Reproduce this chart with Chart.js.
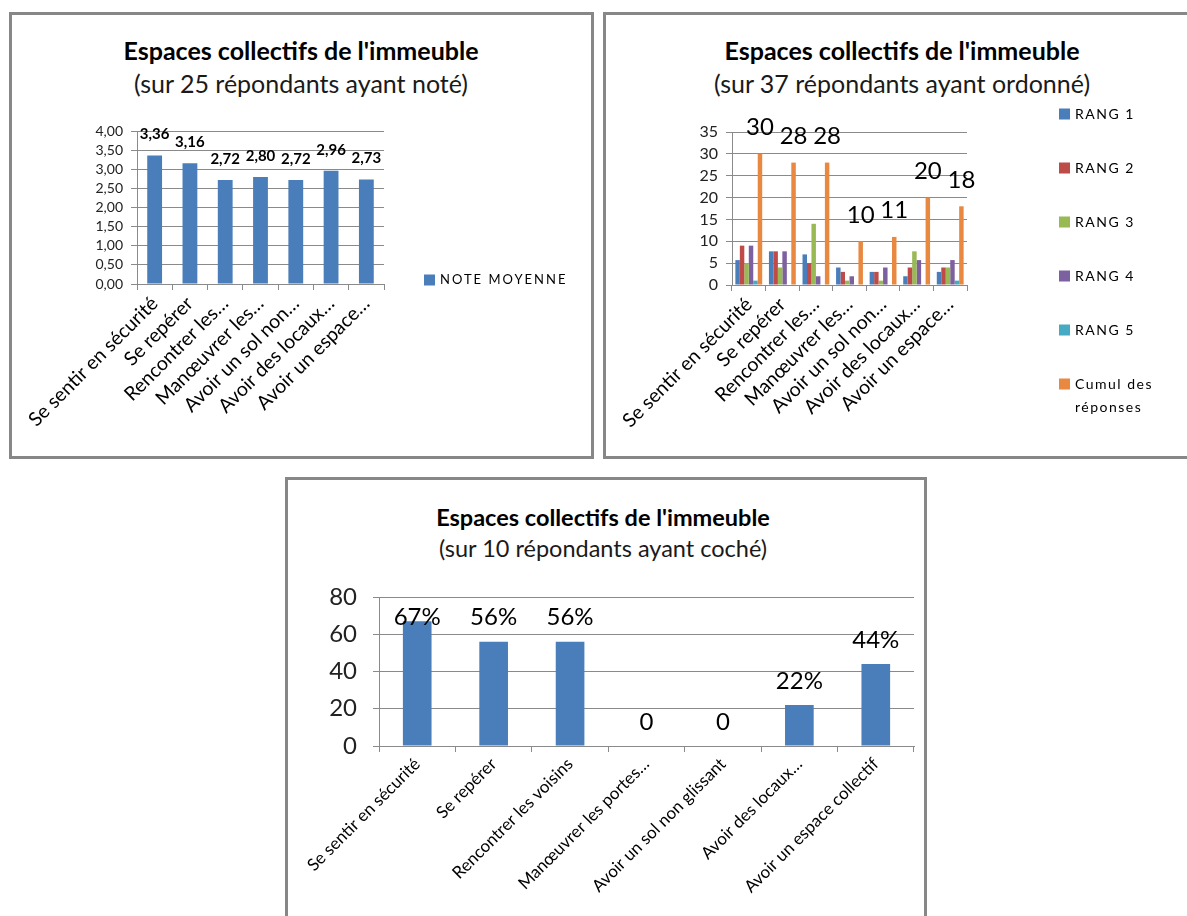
<!DOCTYPE html>
<html lang="fr">
<head>
<meta charset="utf-8">
<title>Espaces collectifs de l'immeuble</title>
<script src="https://cdn.jsdelivr.net/npm/chart.js@4.4.0/dist/chart.umd.min.js"></script>
<style>
    body {
        margin: 0;
        width: 1187px;
        height: 916px;
        overflow: hidden;
        position: relative;
        background: #fff;
        font-family: Lato, "Liberation Sans", sans-serif;
    }
    .panel {
        position: absolute;
        border: 3px solid #878787;
        box-sizing: border-box;
        background: #fff;
    }
    .panel canvas {
        position: absolute;
        left: 0;
        top: 0;
    }
    .title, .subtitle {
        position: absolute;
        width: 600px;
        text-align: center;
        color: #000;
        white-space: nowrap;
        line-height: 30px;
        font-size: 25px;
    }
    .title { font-weight: bold; }
    .subtitle { color: #1a1a1a; }
    .small { font-size: 23.5px; }
</style>
</head>
<body>

<div class="panel" style="left:9px; top:12px; width:585px; height:447px;">
    <div class="title" style="left:-11px; top:20px;">Espaces collectifs de l'immeuble</div>
    <div class="subtitle" style="left:-11px; top:53px;">(sur 25 répondants ayant noté)</div>
    <canvas id="noteChart" width="579" height="441"></canvas>
</div>

<div class="panel" style="left:603px; top:12px; width:590px; height:447px;">
    <div class="title" style="left:-4px; top:20px;">Espaces collectifs de l'immeuble</div>
    <div class="subtitle" style="left:-4px; top:53px;">(sur 37 répondants ayant ordonné)</div>
    <canvas id="rangChart" width="581" height="441"></canvas>
</div>

<div class="panel" style="left:285px; top:477px; width:642px; height:445px;">
    <div class="title small" style="left:15px; top:22px;">Espaces collectifs de l'immeuble</div>
    <div class="subtitle small" style="left:15px; top:53px;">(sur 10 répondants ayant coché)</div>
    <canvas id="cocheChart" width="636" height="436"></canvas>
</div>

<script>
// Critères (libellés raccourcis comme sur l'axe)
const shortLabels = ["Se sentir en sécurité", "Se repérer", "Rencontrer les…", "Manœuvrer les…",
    "Avoir un sol non…", "Avoir des locaux…", "Avoir un espace…"];
const longLabels = ["Se sentir en sécurité", "Se repérer", "Rencontrer les voisins", "Manœuvrer les portes…",
    "Avoir un sol non glissant", "Avoir des locaux…", "Avoir un espace collectif"];

// Graphique 1 : note moyenne
const noteMoyenne = [3.36, 3.16, 2.72, 2.80, 2.72, 2.96, 2.73];

// Graphique 2 : rangs
const rang1 = [5.7, 7.7, 7, 4, 3, 2, 3];
const rang2 = [9, 7.7, 5, 3, 3, 4, 4];
const rang3 = [5, 4, 14, 1, 1, 7.7, 4];
const rang4 = [9, 7.7, 2, 2, 4, 5.7, 5.7];
const rang5 = [1, 0, 0, 0, 0, 0, 1];
const cumulReponses = [30, 28, 28, 10, 11, 20, 18];

// Graphique 3 : pourcentage ayant coché
const pctCoche = [67, 56, 56, 0, 0, 22, 44];

const colors = {
    blue: '#4A7EBB',
    red: '#BE4B48',
    green: '#98B954',
    purple: '#7D60A0',
    teal: '#46AAC5',
    orange: '#E98840'
};
const gridColor = '#8a8a8a';
const fontFamily = 'Lato, "Liberation Sans", sans-serif';

function frenchNumber(v) {
    return v.toFixed(2).replace('.', ',');
}

// writes the value above each bar of one dataset
function makeBarLabels(datasetIndex, font, offset, format, minTop) {
    return {
        id: 'barLabels' + datasetIndex,
        afterDatasetsDraw: function (chart) {
            const ctx = chart.ctx;
            const meta = chart.getDatasetMeta(datasetIndex);
            const values = chart.data.datasets[datasetIndex].data;
            ctx.save();
            ctx.font = font;
            ctx.fillStyle = '#000';
            ctx.textAlign = 'center';
            ctx.textBaseline = 'middle';
            meta.data.forEach(function (bar, i) {
                let y = bar.y - offset;
                if (minTop !== undefined) {
                    y = Math.max(y, chart.chartArea.top + minTop);
                }
                ctx.fillText(format(values[i]), bar.x, y);
            });
            ctx.restore();
        }
    };
}

// legend drawn at a fixed place, one square per dataset
function makeLegend(x, y, step, font, spacing, lineHeight) {
    return {
        id: 'sideLegend',
        afterDraw: function (chart) {
            const ctx = chart.ctx;
            ctx.save();
            ctx.font = font;
            ctx.textBaseline = 'middle';
            if ('letterSpacing' in ctx) ctx.letterSpacing = spacing + 'px';
            chart.data.datasets.forEach(function (ds, i) {
                const cy = y + i * step;
                ctx.fillStyle = ds.backgroundColor;
                ctx.fillRect(x, cy - 5.5, 11, 11);
                ctx.fillStyle = '#000';
                const lines = ds.label.split('\n');
                lines.forEach(function (line, k) {
                    ctx.fillText(line, x + 16, cy + k * lineHeight);
                });
            });
            ctx.restore();
        }
    };
}

function axisOptions(yMax, yStep, yFont, yPad, xFont, yWidth, xHeight, yFormat) {
    return {
        x: {
            grid: { drawOnChartArea: false, drawTicks: true, tickLength: 6, color: gridColor, offset: true },
            border: { display: true, color: gridColor },
            ticks: {
                autoSkip: false,
                minRotation: 45,
                maxRotation: 45,
                color: '#000',
                padding: 2,
                font: { family: fontFamily, size: xFont }
            },
            afterFit: function (scale) { scale.height = xHeight; }
        },
        y: {
            min: 0,
            max: yMax,
            grid: { color: gridColor, lineWidth: 1, tickLength: 6 },
            border: { display: true, color: gridColor },
            ticks: {
                stepSize: yStep,
                autoSkip: false,
                color: '#222',
                padding: yPad,
                font: { family: fontFamily, size: yFont },
                callback: yFormat
            },
            afterFit: function (scale) { scale.width = yWidth; }
        }
    };
}

Chart.defaults.animation = false;

var noteChart = new Chart(document.getElementById('noteChart').getContext('2d'), {
    type: 'bar',
    data: {
        labels: shortLabels,
        datasets: [{
            label: 'NOTE MOYENNE',
            data: noteMoyenne,
            backgroundColor: colors.blue,
            barPercentage: 0.42,
            categoryPercentage: 1
        }]
    },
    options: {
        responsive: false,
        layout: { padding: { top: 116, left: 0, right: 207, bottom: 0 } },
        plugins: { legend: { display: false }, tooltip: { enabled: false } },
        scales: axisOptions(4, 0.5, 14, 8, 19.5, 125, 172, function (v) { return frenchNumber(v); })
    },
    plugins: [
        makeBarLabels(0, 'bold 15px ' + fontFamily, 21, frenchNumber),
        makeLegend(412, 265, 0, '13px ' + fontFamily, 2, 0)
    ]
});

var rangChart = new Chart(document.getElementById('rangChart').getContext('2d'), {
    type: 'bar',
    data: {
        labels: shortLabels,
        datasets: [
            { label: 'RANG 1', data: rang1, backgroundColor: colors.blue },
            { label: 'RANG 2', data: rang2, backgroundColor: colors.red },
            { label: 'RANG 3', data: rang3, backgroundColor: colors.green },
            { label: 'RANG 4', data: rang4, backgroundColor: colors.purple },
            { label: 'RANG 5', data: rang5, backgroundColor: colors.teal },
            { label: 'Cumul des\nréponses', data: cumulReponses, backgroundColor: colors.orange }
        ]
    },
    options: {
        responsive: false,
        datasets: { bar: { barPercentage: 1, categoryPercentage: 0.8 } },
        layout: { padding: { top: 117, left: 0, right: 220, bottom: 0 } },
        plugins: { legend: { display: false }, tooltip: { enabled: false } },
        scales: axisOptions(35, 5, 16, 8, 19.5, 126, 171, function (v) { return v; })
    },
    plugins: [
        makeBarLabels(5, '24px ' + fontFamily, 26.5, function (v) { return String(v); }),
        makeLegend(453, 99, 54, '14px ' + fontFamily, 1.5, 23)
    ]
});

var cocheChart = new Chart(document.getElementById('cocheChart').getContext('2d'), {
    type: 'bar',
    data: {
        labels: longLabels,
        datasets: [{
            label: 'Pourcentage',
            data: pctCoche,
            backgroundColor: colors.blue,
            barPercentage: 0.375,
            categoryPercentage: 1
        }]
    },
    options: {
        responsive: false,
        layout: { padding: { top: 117, left: 0, right: 10, bottom: 0 } },
        plugins: { legend: { display: false }, tooltip: { enabled: false } },
        scales: axisOptions(80, 20, 24, 16, 17, 91, 170, function (v) { return v; })
    },
    plugins: [
        makeBarLabels(0, '24px ' + fontFamily, 24, function (v) { return v === 0 ? '0' : v + '%'; }, 20)
    ]
});
</script>
</body>
</html>
